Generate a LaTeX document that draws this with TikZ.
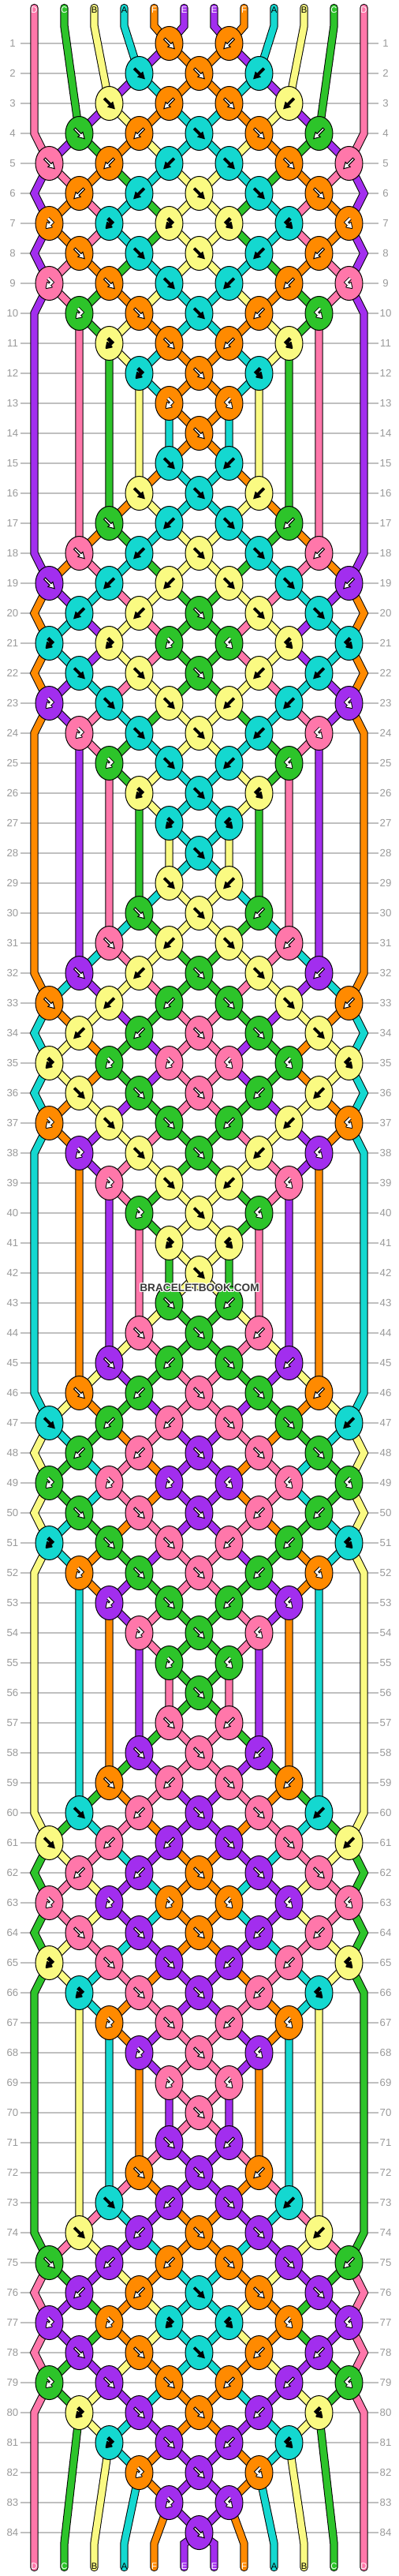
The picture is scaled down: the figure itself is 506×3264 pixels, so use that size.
\documentclass[tikz,border=0pt]{standalone}
\usepackage{fontspec}
\setmainfont{Liberation Sans}
\usetikzlibrary{shapes.geometric}

\definecolor{kpink}{HTML}{FF77AA}
\definecolor{kgreen}{HTML}{2DC42A}
\definecolor{kyellow}{HTML}{FAFA82}
\definecolor{kcyan}{HTML}{14D8D0}
\definecolor{korange}{HTML}{FF8A00}
\definecolor{kpurple}{HTML}{A22EEE}
\definecolor{gridgray}{HTML}{C0C0C0}
\definecolor{numgray}{HTML}{9A9A9A}
\definecolor{markgray}{HTML}{3A3A3A}

\pgfdeclarelayer{grid}
\pgfdeclarelayer{strings}
\pgfsetlayers{grid,strings,main}

\newcommand\colx[1]{\pgfmathsetmacro\cx{5.5+38*#1}}
\newcommand\addpt[3]{\expandafter\xdef\csname sp#1\endcsname{\csname sp#1\endcsname -- (#2,#3)}}
\def\flipcode#1{\if f#1b\else\if b#1f\else\if F#1B\else\if B#1F\else0\fi\fi\fi\fi}
\def\splitcodes#1#2#3\relax{\xdef\ca{#1}\xdef\cb{#2}\xdef\cc{#3}}
\newcommand\straightmark[1]{\filldraw[fill=#1,draw=black,line width=0.5pt]
  (-5.09,-6.93) -- (2.33,0.49) -- (4.45,-1.63) -- (6.72,6.72) -- (-1.63,4.45) -- (0.49,2.33) -- (-6.93,-5.09) -- cycle;}
\newcommand\hookmark[1]{%
  \draw[black,line width=2.3pt,line cap=square] (-1.56,-6.24) -- (3.44,-1.24) -- (0.44,1.76);
  \filldraw[black,line width=1pt,line join=round] (3.27,4.59) -- (-3.8,6) -- (-2.39,-1.07) -- cycle;
  \draw[#1,line width=1.3pt,line cap=square] (-1.56,-6.24) -- (3.44,-1.24) -- (0.44,1.76);
  \fill[#1] (3.27,4.59) -- (-3.8,6) -- (-2.39,-1.07) -- cycle;}

\begin{document}
\begin{tikzpicture}[x=0.5pt,y=-0.5pt,
  rowline/.style={gridgray,line width=0.6pt},
  rownum/.style={numgray,font=\fontsize{6.6}{7}\selectfont,inner sep=0pt},
  endtag/.style={font=\fontsize{5.6}{6}\selectfont,inner sep=0pt},
  strout/.style={black,line width=5.2pt,line cap=round},
  strin/.style={line width=4.2pt,line cap=round},
  knot/.style={ellipse,draw=black,line width=0.5pt,minimum width=17.5pt,minimum height=21.5pt,inner sep=0pt},
  wmark/.style={font=\fontsize{6.85}{7}\selectfont\bfseries,inner sep=0pt}]
\useasboundingbox (0,0) rectangle (506,3264);
\begin{pgfonlayer}{grid}
\foreach \r in {1,...,84}{
  \pgfmathsetmacro\ry{17+38*\r}
  \draw[rowline] (26,\ry) -- (480,\ry);
  \node[rownum] (ln\r) at (16,\ry) {\r};
  \node[rownum] (rn\r) at (489,\ry) {\r};
}
\end{pgfonlayer}
\foreach \sid/\scol/\sarr/\slab in {1/kpink/white/D,2/kgreen/white/C,3/kyellow/black/B,4/kcyan/black/A,
  5/korange/white/F,6/kpurple/white/E,7/kpurple/white/E,8/korange/white/F,9/kcyan/black/A,
  10/kyellow/black/B,11/kgreen/white/C,12/kpink/white/D}{
  \colx{\sid}
  \expandafter\xdef\csname pos\sid\endcsname{\sid}
  \expandafter\xdef\csname sc\sid\endcsname{\scol}
  \expandafter\xdef\csname sa\sid\endcsname{\sarr}
  \expandafter\xdef\csname sl\sid\endcsname{\slab}
  \expandafter\xdef\csname sp\sid\endcsname{(\cx,10) -- (\cx,33)}
  \node[endtag,text=\sarr] (top\sid) at (\cx,13) {\slab};
}
\foreach \cyc in {0,...,5}{
 \foreach \k/\codes in {1/00f,2/0ff,3/0fb,4/fbf,5/fbb,6/bbf,7/BBB,8/fff,9/Bff,10/Bff,11/0Bf,12/0Bf,13/00B,14/00f}{
  \pgfmathtruncatemacro\row{14*\cyc+\k}
  \pgfmathsetmacro\ry{17+38*\row}
  \expandafter\splitcodes\codes\relax
  \ifodd\row\relax
    \xdef\rowcodes{1/\ca,3/\cb,5/\cc,7/\flipcode\cc,9/\flipcode\cb,11/\flipcode\ca}
  \else
    \xdef\rowcodes{2/\ca,4/\cb,6/\cc,8/\flipcode\cb,10/\flipcode\ca}
    \colx{1}\edef\tid{\csname pos1\endcsname}\addpt{\tid}{\cx}{\ry}
    \colx{12}\edef\tid{\csname pos12\endcsname}\addpt{\tid}{\cx}{\ry}
  \fi
  \foreach \p/\code in \rowcodes{
    \if0\code\else
      \pgfmathtruncatemacro\pr{\p+1}
      \edef\tleft{\csname pos\p\endcsname}
      \edef\tright{\csname pos\pr\endcsname}
      \pgfmathsetmacro\kx{24.5+38*\p}
      \addpt{\tleft}{\kx}{\ry}
      \addpt{\tright}{\kx}{\ry}
      \if f\code\edef\tk{\tleft}\else\if F\code\edef\tk{\tleft}\else\edef\tk{\tright}\fi\fi
      \edef\kc{\csname sc\tk\endcsname}
      \edef\ac{\csname sa\tk\endcsname}
      \node[knot,fill=\kc] (k\row-\p) at (\kx,\ry) {};
      \begin{scope}[shift={(\kx,\ry)}]
        \if f\code\straightmark{\ac}\fi
        \if b\code\begin{scope}[xscale=-1]\straightmark{\ac}\end{scope}\fi
        \if B\code\hookmark{\ac}\fi
        \if F\code\begin{scope}[xscale=-1]\hookmark{\ac}\end{scope}\fi
      \end{scope}
      \if f\code\xdef\swapit{1}\else\if b\code\xdef\swapit{1}\else\xdef\swapit{0}\fi\fi
      \if1\swapit
        \expandafter\xdef\csname pos\p\endcsname{\tright}
        \expandafter\xdef\csname pos\pr\endcsname{\tleft}
      \fi
    \fi
  }
 }
}
\foreach \p in {1,...,12}{
  \colx{\p}
  \edef\tid{\csname pos\p\endcsname}
  \addpt{\tid}{\cx}{3223}
  \addpt{\tid}{\cx}{3253}
  \edef\ac{\csname sa\tid\endcsname}
  \node[endtag,text=\ac] (bot\p) at (\cx,3252) {\csname sl\tid\endcsname};
}
\begin{pgfonlayer}{strings}
\foreach \sid in {1,...,12}{
  \edef\strcol{\csname sc\sid\endcsname}
  \edef\drawstr{\noexpand\draw[strout] \csname sp\sid\endcsname;
    \noexpand\draw[strin,\strcol] \csname sp\sid\endcsname;}
  \drawstr
}
\end{pgfonlayer}
\foreach \dx/\dy in {-1/0,1/0,0/-1,0/1,-1/-1,1/1,-1/1,1/-1}
  \node[wmark,white] at (253+\dx,1632+\dy) {BRACELETBOOK.COM};
\node[wmark,markgray] (mark) at (253,1632) {BRACELETBOOK.COM};
\end{tikzpicture}
\end{document}
